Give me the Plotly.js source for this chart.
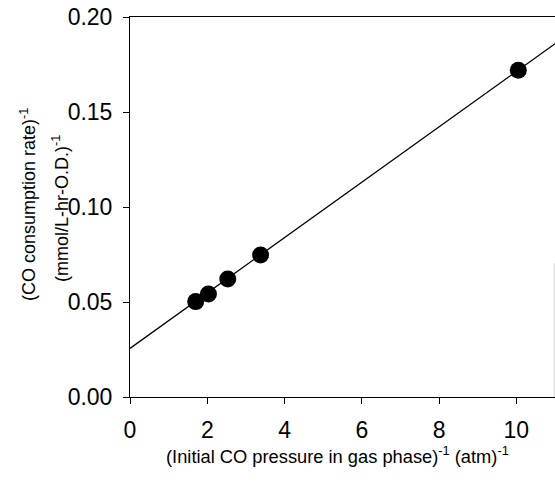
<!DOCTYPE html>
<html>
<head>
<meta charset="utf-8">
<script src="https://cdn.plot.ly/plotly-3.0.1.min.js"></script>
<style>html,body{margin:0;padding:0;background:#fff;}#chart{width:555px;height:482px;}</style>
</head>
<body>
<div id="chart"></div>
<script>
// Data
var pointsX = [1.70, 2.03, 2.53, 3.38, 10.05];
var pointsY = [0.0502, 0.0542, 0.0621, 0.0747, 0.172];
var fitX = [0, 11.5];
var fitY = [0.0256, 0.1932];
var xTickVals = [0, 2, 4, 6, 8, 10];
var yTickVals = [0.00, 0.05, 0.10, 0.15, 0.20];
var xTitle = '(Initial CO pressure in gas phase)<sup>-1</sup> (atm)<sup>-1</sup>';
var yTitle1 = '(CO consumption rate)<sup>-1</sup>';
var yTitle2 = '(mmol/L-hr-O.D.)<sup>-1</sup>';

var FONT = 'Liberation Sans, Arial, Helvetica, sans-serif';

var traces = [
  {x: fitX, y: fitY, mode: 'lines', type: 'scatter', line: {color: '#000', width: 1.3}, hoverinfo: 'skip'},
  {x: pointsX, y: pointsY, mode: 'markers', type: 'scatter', marker: {color: '#000', size: 17}, cliponaxis: false}
];

var layout = {
  width: 555, height: 482,
  margin: {l: 130, r: 0, t: 17, b: 85},
  paper_bgcolor: '#fff', plot_bgcolor: '#fff',
  showlegend: false,
  font: {family: FONT, color: '#000'},
  xaxis: {
    range: [0, 11], tickvals: xTickVals, ticktext: xTickVals.map(String),
    showgrid: false, zeroline: false, showline: true, mirror: true,
    linecolor: '#000', linewidth: 1, ticks: 'outside', ticklen: 6, tickwidth: 1, tickcolor: '#000',
    tickfont: {size: 23, family: FONT, color: '#000'}, ticklabelstandoff: 6
  },
  yaxis: {
    range: [0, 0.2], tickvals: yTickVals, ticktext: yTickVals.map(function(v){return v.toFixed(2);}),
    showgrid: false, zeroline: false, showline: true, mirror: false,
    linecolor: '#000', linewidth: 1, ticks: 'outside', ticklen: 6, tickwidth: 1, tickcolor: '#000',
    tickfont: {size: 23, family: FONT, color: '#000'}, ticklabelstandoff: 6
  },
  shapes: [
    {type: 'line', xref: 'paper', yref: 'y', x0: 0.998, x1: 0.998, y0: 0, y1: 0.0705, line: {color: '#cfcfcf', width: 1}}
  ],
  annotations: [
    {text: xTitle, xref: 'paper', yref: 'paper', x: 0.489, y: 0, yshift: -58, xanchor: 'center', yanchor: 'middle', showarrow: false, font: {size: 18.3, family: FONT, color: '#000'}},
    {text: yTitle1, xref: 'paper', yref: 'paper', x: 0, xshift: -102, y: 0.505, xanchor: 'center', yanchor: 'middle', textangle: -90, showarrow: false, font: {size: 18, family: FONT, color: '#000'}},
    {text: yTitle2, xref: 'paper', yref: 'paper', x: 0, xshift: -69, y: 0.495, xanchor: 'center', yanchor: 'middle', textangle: -90, showarrow: false, font: {size: 18, family: FONT, color: '#000'}}
  ]
};

Plotly.newPlot('chart', traces, layout, {displayModeBar: false, staticPlot: true});
</script>
</body>
</html>
